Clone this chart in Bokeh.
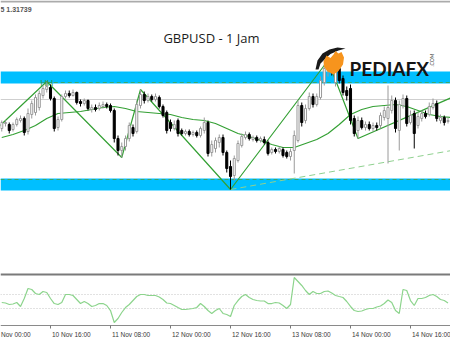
import math
import numpy as np
from bokeh.plotting import figure
from bokeh.models import Range1d
from bokeh.embed import file_html
from bokeh.resources import INLINE
from bokeh.core.properties import value

# ---------------- data ----------------
hours = list(range(3, 123))  # H1 bars, hours since 10 Nov 00:00

opens = [1.31700,1.31725,1.31720,1.31695,1.31720,1.31740,1.31750,1.31685,1.31770,1.31780,
         1.31805,1.31865,1.31895,1.31905,1.31850,1.31705,1.31745,1.31860,1.31875,1.31865,
         1.31880,1.31835,1.31825,1.31840,1.31795,1.31805,1.31800,1.31810,1.31820,1.31815,
         1.31790,1.31650,1.31590,1.31610,1.31650,1.31705,1.31685,1.31815,1.31870,1.31840,
         1.31860,1.31845,1.31855,1.31810,1.31780,1.31730,1.31700,1.31740,1.31690,1.31675,
         1.31685,1.31670,1.31680,1.31665,1.31690,1.31730,1.31580,1.31600,1.31630,1.31655,
         1.31580,1.31510,1.31465,1.31540,1.31615,1.31655,1.31670,1.31645,1.31655,1.31640,
         1.31645,1.31630,1.31580,1.31595,1.31585,1.31595,1.31580,1.31560,1.31590,1.31640,
         1.31815,1.31740,1.31800,1.31860,1.31820,1.31855,1.31930,1.31990,1.32010,1.31930,
         1.32000,1.31950,1.31890,1.31900,1.31750,1.31690,1.31740,1.31705,1.31720,1.31700,
         1.31715,1.31715,1.31755,1.31750,1.31790,1.31840,1.31690,1.31815,1.31850,1.31730,
         1.31775,1.31715,1.31750,1.31775,1.31770,1.31805,1.31825,1.31740,1.31755,1.31735]
closes = [1.31730,1.31730,1.31690,1.31720,1.31745,1.31750,1.31680,1.31775,1.31825,1.31855,
          1.31875,1.31900,1.31910,1.31850,1.31700,1.31745,1.31860,1.31875,1.31865,1.31880,
          1.31830,1.31825,1.31840,1.31800,1.31805,1.31795,1.31815,1.31820,1.31810,1.31790,
          1.31650,1.31590,1.31610,1.31650,1.31715,1.31675,1.31820,1.31870,1.31840,1.31860,
          1.31845,1.31860,1.31810,1.31765,1.31690,1.31700,1.31720,1.31675,1.31675,1.31685,
          1.31670,1.31680,1.31665,1.31700,1.31730,1.31575,1.31620,1.31640,1.31655,1.31580,
          1.31500,1.31460,1.31550,1.31625,1.31660,1.31670,1.31650,1.31655,1.31640,1.31650,
          1.31630,1.31575,1.31595,1.31585,1.31600,1.31565,1.31560,1.31585,1.31665,1.31815,
          1.31730,1.31800,1.31860,1.31820,1.31860,1.31940,1.32000,1.32015,1.31980,1.32005,
          1.31940,1.31880,1.31865,1.31740,1.31675,1.31740,1.31705,1.31720,1.31700,1.31715,
          1.31705,1.31765,1.31790,1.31805,1.31840,1.31700,1.31820,1.31850,1.31725,1.31765,
          1.31675,1.31760,1.31775,1.31760,1.31810,1.31825,1.31750,1.31755,1.31730,1.31740]
highs = [1.31740,1.31740,1.31730,1.31730,1.31755,1.31765,1.31760,1.31800,1.31840,1.31870,
         1.31890,1.31915,1.31935,1.31920,1.31860,1.31760,1.31870,1.31890,1.31890,1.31895,
         1.31885,1.31845,1.31850,1.31845,1.31820,1.31820,1.31830,1.31835,1.31830,1.31825,
         1.31800,1.31665,1.31630,1.31665,1.31730,1.31720,1.31840,1.31895,1.31885,1.31875,
         1.31870,1.31875,1.31865,1.31820,1.31790,1.31745,1.31740,1.31750,1.31700,1.31695,
         1.31695,1.31690,1.31690,1.31710,1.31755,1.31740,1.31640,1.31655,1.31670,1.31670,
         1.31590,1.31540,1.31565,1.31640,1.31675,1.31685,1.31680,1.31665,1.31665,1.31660,
         1.31660,1.31640,1.31605,1.31605,1.31610,1.31605,1.31590,1.31600,1.31690,1.31840,
         1.31830,1.31820,1.31880,1.31875,1.31875,1.31960,1.32020,1.32040,1.32030,1.32020,
         1.32015,1.31965,1.31910,1.31920,1.31765,1.31760,1.31755,1.31735,1.31735,1.31730,
         1.31730,1.31780,1.31810,1.31915,1.31865,1.31855,1.31840,1.31870,1.31865,1.31790,
         1.31790,1.31780,1.31790,1.31790,1.31830,1.31850,1.31840,1.31770,1.31765,1.31755]
lows = [1.31685,1.31710,1.31675,1.31685,1.31710,1.31730,1.31665,1.31670,1.31750,1.31765,
        1.31790,1.31850,1.31880,1.31840,1.31685,1.31690,1.31735,1.31850,1.31855,1.31860,
        1.31820,1.31810,1.31815,1.31790,1.31780,1.31785,1.31790,1.31800,1.31800,1.31780,
        1.31630,1.31565,1.31555,1.31590,1.31635,1.31660,1.31675,1.31800,1.31825,1.31830,
        1.31835,1.31835,1.31800,1.31755,1.31675,1.31685,1.31690,1.31660,1.31665,1.31665,
        1.31660,1.31660,1.31655,1.31655,1.31675,1.31560,1.31560,1.31580,1.31605,1.31565,
        1.31480,1.31395,1.31440,1.31530,1.31605,1.31645,1.31640,1.31635,1.31630,1.31630,
        1.31620,1.31565,1.31570,1.31575,1.31575,1.31555,1.31550,1.31540,1.31475,1.31630,
        1.31710,1.31725,1.31790,1.31805,1.31810,1.31845,1.31915,1.31960,1.31965,1.31910,
        1.31925,1.31865,1.31840,1.31720,1.31660,1.31650,1.31695,1.31690,1.31690,1.31685,
        1.31690,1.31700,1.31740,1.31525,1.31775,1.31680,1.31590,1.31800,1.31710,1.31720,
        1.31600,1.31700,1.31735,1.31750,1.31760,1.31795,1.31735,1.31725,1.31715,1.31725]

# moving average (sampled every 3 bars)
ma_hours = list(range(3, 124, 3))
ma_values = [1.31655,1.31670,1.31690,1.31715,1.31750,1.31775,1.31780,1.31785,1.31795,1.31805,
             1.31810,1.31800,1.31785,1.31780,1.31775,1.31770,1.31755,1.31745,1.31740,1.31725,
             1.31700,1.31675,1.31660,1.31640,1.31620,1.31605,1.31605,1.31625,1.31645,1.31675,
             1.31720,1.31770,1.31795,1.31810,1.31815,1.31820,1.31810,1.31790,1.31770,1.31760,
             1.31755]

# zigzag swing points
zz_hours = [2, 15, 35, 40, 64, 90, 98, 123]
zz_prices = [1.31705, 1.31935, 1.31555, 1.31895, 1.31395, 1.32040, 1.31650, 1.31855]

# support / resistance zones and levels
res_zone = [1.319275, 1.31985]
sup_zone = [1.313925, 1.31450]
res_level = 1.31930
sup_level = 1.31445
mid_level = 1.31845
trend_hours = [64, 123]
trend_prices = [1.31395, 1.31590]
hh_hour = 15
hh_price = 1.31935

# oscillator (sub window)
osc = [48.6,47.9,45.7,46.4,48.6,42.9,54.3,68.6,67.1,61.4,60.0,64.3,62.9,54.3,47.1,45.7,48.6,60.0,60.0,58.6,
       52.9,47.1,50.0,47.1,42.9,44.3,47.1,47.1,44.3,37.1,20.0,25.7,34.3,41.4,45.7,51.4,57.1,60.0,60.0,58.6,
       58.6,58.6,56.4,52.9,47.9,47.1,44.3,41.4,38.6,38.6,39.3,40.0,41.4,47.1,42.9,37.1,32.9,37.1,40.0,32.9,
       31.4,28.6,44.3,51.4,57.1,60.0,55.7,52.9,51.4,50.7,50.7,47.1,47.1,48.6,47.9,44.3,40.0,45.7,84.3,78.6,
       72.9,65.7,60.0,64.3,61.4,61.4,64.3,65.0,62.1,58.6,57.1,55.7,50.0,42.9,37.1,35.7,36.4,38.6,40.0,40.0,
       42.1,43.6,47.1,52.1,48.6,37.1,32.9,67.1,65.7,51.4,44.3,54.3,54.3,55.7,58.6,60.0,57.1,52.9,51.4,47.9]
osc_levels = [60, 40]

tick_hours = [0, 16, 32, 48, 64, 80, 96, 112]
tick_labels = ["10 Nov 00:00", "10 Nov 16:00", "11 Nov 08:00", "12 Nov 00:00",
               "12 Nov 16:00", "13 Nov 08:00", "14 Nov 00:00", "14 Nov 16:00"]

title_text = "GBPUSD - 1 Jam"
info_text = "5 1.31739"

# ---------------- figure ----------------
W, H = 450, 338
x0, x1 = 10 / 3.75, 460 / 3.75
p = figure(width=W, height=H, x_range=Range1d(x0, x1), y_range=Range1d(1.30650, 1.32340),
           output_backend="svg", toolbar_location=None, min_border=0)
p.extra_y_ranges = {"osc": Range1d(-2.857, 480.0), "px": Range1d(H, 0)}
p.extra_x_ranges = {"px": Range1d(0, W)}
p.axis.visible = False
p.xgrid.visible = False
p.ygrid.visible = False
p.outline_line_color = None
p.background_fill_color = "white"
p.border_fill_color = "white"

GREEN = "#34a034"

# top border
p.hspan(y=[1], y_range_name="px", line_color="#ababab", line_width=2)

# levels and zones
p.hspan(y=[mid_level], line_color="#cfcfcf", line_width=1)
p.hstrip(y0=[res_zone[0], sup_zone[0]], y1=[res_zone[1], sup_zone[1]],
         fill_color="#00bfff", line_color=None)
p.segment(x0=[hh_hour], x1=[x1 + 1], y0=[res_level], y1=[res_level],
          line_color="#3aa86a", line_width=1, line_dash="4 3")
p.hspan(y=[sup_level], line_color="#3aa86a", line_width=1, line_dash="4 3")
p.line(trend_hours, trend_prices, line_color="#8fd08f", line_width=1, line_dash="6 4")

# indicator lines
p.line(ma_hours, ma_values, line_color=GREEN, line_width=1.2)
p.line(zz_hours, zz_prices, line_color=GREEN, line_width=1.2)

# candles
o = np.array(opens); c = np.array(closes); hi = np.array(highs); lo = np.array(lows)
hrs = np.array(hours)
bull = c >= o
bear = ~bull
p.segment(x0=hrs[bull], x1=hrs[bull], y0=hi[bull], y1=lo[bull], line_color="#9a9a9a", line_width=1)
p.segment(x0=hrs[bear], x1=hrs[bear], y0=hi[bear], y1=lo[bear], line_color="#000000", line_width=1)
p.vbar(x=hrs[bull], width=0.55, top=np.maximum(o, c)[bull], bottom=np.minimum(o, c)[bull],
       fill_color="white", line_color="#9a9a9a", line_width=1)
p.vbar(x=hrs[bear], width=0.55, top=np.maximum(o, c)[bear], bottom=np.minimum(o, c)[bear],
       fill_color="#000000", line_color="#000000", line_width=1)

# logo (decoration in pixel space, drawn over the chart)
p.patch(x=[315, 317, 322, 329, 337, 345, 338, 330, 325, 320, 318],
        y=[69, 60, 53, 49, 47, 48, 50, 53.5, 58, 63, 69],
        x_range_name="px", y_range_name="px", fill_color="#1a1a1a", line_color=None)
p.patch(x=[323, 326, 330, 333, 335, 338, 341, 343.5, 342.5, 338, 333, 327, 323.5],
        y=[61, 55, 57.5, 54, 50.5, 53, 51.5, 57, 64, 70.5, 74, 71, 66],
        x_range_name="px", y_range_name="px", fill_color="#f7941d", line_color=None)
p.text(x=[349], y=[68], text=["PEDIAFX"], x_range_name="px", y_range_name="px",
       text_font=value("Lato"), text_font_style="bold", text_font_size="19px",
       text_color="#151515", text_baseline="alphabetic", text_align="left")
p.text(x=[431], y=[66], text=[".COM"], x_range_name="px", y_range_name="px",
       text_font=value("Lato"), text_font_size="5px", text_color="#444444",
       angle=math.pi / 2, text_baseline="middle", text_align="left")

# HH label
p.text(x=[hh_hour], y=[hh_price], text=["HH"], text_font=value("Liberation Sans"),
       text_font_size="9px", text_color="#2f9a4f", text_align="center",
       text_baseline="alphabetic", y_offset=1)

# texts
p.text(x=[211], y=[37], text=[title_text], x_range_name="px", y_range_name="px",
       text_font=value("Open Sans"), text_font_size="13px", text_color="#1c1c1c",
       text_align="center", text_baseline="alphabetic")
p.text(x=[0], y=[9], text=[info_text], x_range_name="px", y_range_name="px",
       text_font=value("Liberation Sans"), text_font_style="bold", text_font_size="7px",
       text_color="#555555", text_align="left", text_baseline="alphabetic")

# sub window
p.hspan(y=[274], y_range_name="px", line_color="#7a7a7a", line_width=2)
p.hspan(y=[325], y_range_name="px", line_color="#8a8a8a", line_width=1)
p.hspan(y=osc_levels, y_range_name="osc", line_color="#c4c4c4", line_width=1, line_dash="1 2")
p.line(hours, osc, y_range_name="osc", line_color="#8cd48c", line_width=1.2)

# time axis ticks and labels
n = len(tick_hours)
p.segment(x0=tick_hours, x1=tick_hours, y0=[325] * n, y1=[328] * n, y_range_name="px",
          line_color="#777777", line_width=1)
p.text(x=tick_hours, y=[334] * n, text=tick_labels, y_range_name="px", x_offset=1.5,
       text_font=value("Liberation Sans"), text_font_size="6.5px", text_color="#3a3a3a",
       text_align="left", text_baseline="alphabetic")

open("out.html", "w").write(file_html(p, INLINE))
